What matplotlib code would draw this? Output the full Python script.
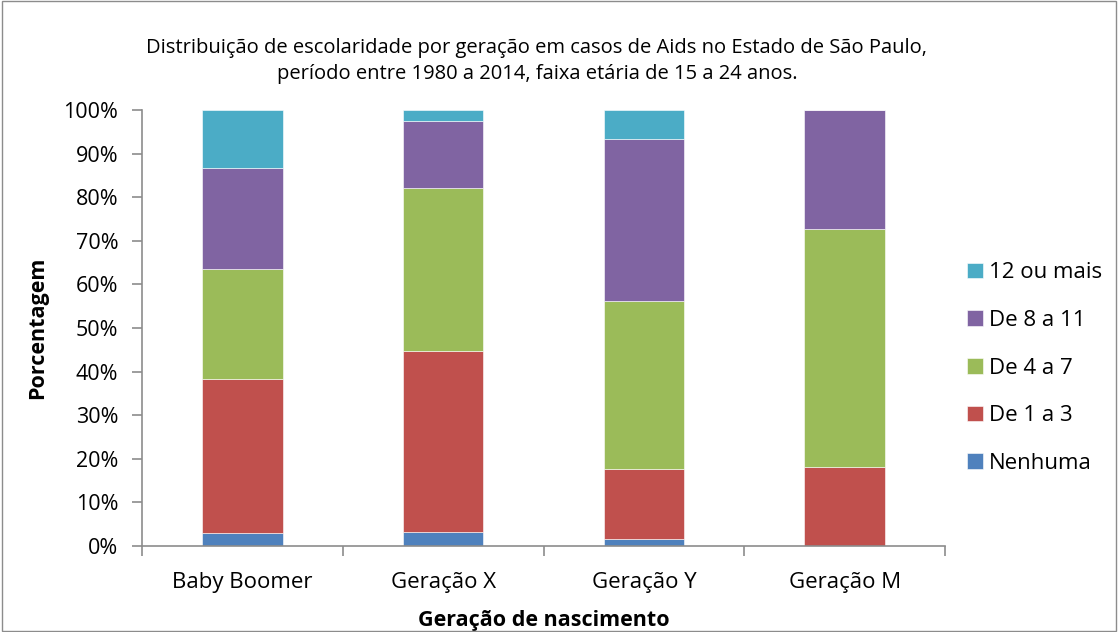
import numpy as np
import matplotlib.pyplot as plt
from matplotlib.patches import Rectangle

plt.rcParams['font.family'] = ['Open Sans', 'DejaVu Sans']

geracoes = ['Baby Boomer', 'Geração X', 'Geração Y', 'Geração M']
series = ['Nenhuma', 'De 1 a 3', 'De 4 a 7', 'De 8 a 11', '12 ou mais']
nenhuma = [2.9, 3.3, 1.7, 0.0]
de_1_a_3 = [35.3, 41.5, 15.9, 18.1]
de_4_a_7 = [25.4, 37.2, 38.5, 54.6]
de_8_a_11 = [23.1, 15.5, 37.2, 27.3]
doze_ou_mais = [13.3, 2.5, 6.7, 0.0]
cores = ['#4F81BD', '#C0504D', '#9BBB59', '#8064A2', '#4BACC6']

fig = plt.figure(figsize=(11.18, 6.32), dpi=100)
ax = fig.add_axes([142 / 1118, 1 - 546 / 632, (945 - 142) / 1118, (546 - 110) / 632])

# border around the whole figure
fig.patches.append(Rectangle((0.002, 0.002), 0.996, 0.996, transform=fig.transFigure,
                             fill=False, edgecolor='#8c8c8c', linewidth=1))

x = np.arange(len(geracoes))
base = np.zeros(len(geracoes))
for nome, vals, cor in zip(series, [nenhuma, de_1_a_3, de_4_a_7, de_8_a_11, doze_ou_mais], cores):
    vals = np.array(vals)
    ax.bar(x, vals, 0.4, bottom=base, color=cor, label=nome, edgecolor='white', linewidth=0.4)
    base = base + vals

ax.set_xlim(-0.5, 3.5)
ax.set_ylim(0, 100)
ax.set_yticks(np.arange(0, 101, 10))
ax.set_yticklabels([f'{v}%' for v in range(0, 101, 10)], fontsize=15.5)
ax.set_xticks(x)
ax.set_xticklabels(geracoes, fontsize=16)
ax.set_xticks(np.arange(-0.5, 3.6, 1), minor=True)
ax.tick_params(axis='x', which='major', length=0, pad=19)
ax.tick_params(axis='x', which='minor', length=7, color='#8c8c8c', width=1.2)
ax.tick_params(axis='y', length=7, color='#8c8c8c', width=1.2, pad=10)

for s in ['top', 'right']:
    ax.spines[s].set_visible(False)
for s in ['left', 'bottom']:
    ax.spines[s].set_color('#8c8c8c')
    ax.spines[s].set_linewidth(1.2)

ax.set_ylabel('Porcentagem', fontsize=15.5, fontweight='bold', labelpad=11)
ax.set_xlabel('Geração de nascimento', fontsize=15.5, fontweight='bold', labelpad=12)

fig.text(537 / 1118, 1 - 61 / 632,
         'Distribuição de escolaridade por geração em casos de Aids no Estado de São Paulo,\n'
         'período entre 1980 a 2014, faixa etária de 15 a 24 anos.',
         ha='center', va='center', fontsize=14.5, linespacing=1.4)

h, l = ax.get_legend_handles_labels()
fig.legend(h[::-1], l[::-1], loc='center left', bbox_to_anchor=(947 / 1118, 1 - 368 / 632),
           frameon=False, fontsize=16, handlelength=0.7, handleheight=0.7,
           handletextpad=0.3, labelspacing=1.2)

fig.savefig('out.png', dpi=100)
